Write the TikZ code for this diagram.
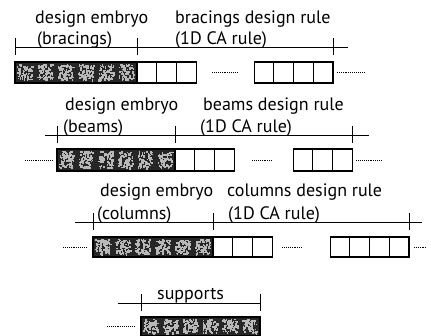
\documentclass[tikz,border=0pt]{standalone}
\usepackage{fontspec}
\setmainfont{PT Sans}
\usetikzlibrary{positioning}

\begin{document}
\begin{tikzpicture}[x=1pt, y=-1pt,
            cell/.style={draw=black, line width=1.1pt, rectangle, minimum width=19.7pt, minimum height=21pt, inner sep=0pt, outer sep=0pt},
            embryo/.style={draw=black, line width=1.1pt, rectangle, fill=black!85, minimum height=21pt, inner sep=0pt, outer sep=0pt},
            speck/.style={fill=black!28},
            dimline/.style={line width=0.4pt},
            dimtick/.style={line width=0.6pt},
            leader/.style={densely dotted, line width=0.9pt},
            lbl/.style={font=\fontsize{18}{22}\selectfont, inner sep=0pt, anchor=base west}
        ]
        \useasboundingbox (0,0) rectangle (431,336);
        \pgfmathsetseed{7}

        % Hoehen der Masslinien
        \coordinate (m1) at (0,47);
        \coordinate (m2) at (0,135);
        \coordinate (m3) at (0,222);
        \coordinate (m4) at (0,303);

        % Knoten: Reihe 1 (bracings)
        \node[embryo, minimum width=122pt] (e1) at (76,72.5) {};
        \node[cell, right=0pt of e1] (c11) {};
        \node[cell, right=0pt of c11] (c12) {};
        \node[cell, right=0pt of c12] (c13) {};
        \node[cell] (k11) at (264,72.5) {};
        \node[cell, right=0pt of k11] (k12) {};
        \node[cell, right=0pt of k12] (k13) {};
        \node[cell, right=0pt of k13] (k14) {};

        % Knoten: Reihe 2 (beams)
        \node[embryo, minimum width=118pt, minimum height=22pt] (e2) at (116,160) {};
        \node[cell, minimum height=22pt, right=0pt of e2] (c21) {};
        \node[cell, minimum height=22pt, right=0pt of c21] (c22) {};
        \node[cell, minimum height=22pt, right=0pt of c22] (c23) {};
        \node[cell, minimum height=22pt] (k21) at (303,160) {};
        \node[cell, minimum height=22pt, right=0pt of k21] (k22) {};
        \node[cell, minimum height=22pt, right=0pt of k22] (k23) {};

        % Knoten: Reihe 3 (columns)
        \node[embryo, minimum width=120pt, minimum height=20pt] (e3) at (153,247) {};
        \node[cell, minimum height=20pt, right=0pt of e3] (c31) {};
        \node[cell, minimum height=20pt, right=0pt of c31] (c32) {};
        \node[cell, minimum height=20pt, right=0pt of c32] (c33) {};
        \node[cell, minimum height=20pt] (k31) at (340,247) {};
        \node[cell, minimum height=20pt, right=0pt of k31] (k32) {};
        \node[cell, minimum height=20pt, right=0pt of k32] (k33) {};
        \node[cell, minimum height=20pt, right=0pt of k33] (k34) {};

        % Knoten: supports
        \node[embryo, minimum width=119pt, minimum height=19pt] (e4) at (200.5,326.5) {};

        % Muster in den Embryos
        \foreach \blk/\w/\h in {e1/122/21, e2/118/22, e3/120/20, e4/119/19} {
            \begin{scope}[shift={(\blk.north west)}]
                \foreach \c in {0,...,5}
                    \foreach \k in {1,...,70}
                        \fill[speck] ({\c*\w/6+2+rnd*(\w/6-5.5)},{2+rnd*(\h-5.5)}) rectangle ++({1+rnd*1.4},{1+rnd*1.6});
            \end{scope}
        }

        % Punktlinien
        \draw[leader] ([xshift=16pt]c13.east) -- ([xshift=-17pt]k11.west);
        \draw[leader] ([xshift=4pt]k14.east) -- ([xshift=31pt]k14.east);
        \draw[leader] ([xshift=-32pt]e2.west) -- ([xshift=-5pt]e2.west);
        \draw[leader] ([xshift=18pt]c23.east) -- ([xshift=-21pt]k21.west);
        \draw[leader] ([xshift=4pt]k23.east) -- ([xshift=30pt]k23.east);
        \draw[leader] ([xshift=-30pt]e3.west) -- ([xshift=-6pt]e3.west);
        \draw[leader] ([xshift=10pt]c33.east) -- ([xshift=-28pt]k31.west);
        \draw[leader] ([xshift=5pt]k34.east) -- ([xshift=17pt]k34.east);
        \draw[leader] ([xshift=-34pt]e4.west) -- ([xshift=-6pt]e4.west);

        % Masslinien
        \draw[dimline] (e1.west |- m1) -- ([xshift=15pt]k14.east |- m1);
        \draw[dimline] ([xshift=-12pt]e2.west |- m2) -- ([xshift=17pt]k23.east |- m2);
        \draw[dimline] ([xshift=-18pt]e3.west |- m3) -- ([xshift=13pt]k34.east |- m3);
        \draw[dimline] ([xshift=-23pt]e4.west |- m4) -- (e4.east |- m4);

        \foreach \p/\m in {e1.west/m1, e1.east/m1, k14.east/m1,
                           e2.west/m2, e2.east/m2, k23.east/m2,
                           e3.west/m3, e3.east/m3, k34.east/m3,
                           e4.west/m4, e4.east/m4}
            \draw[dimtick] (\p |- \m) ++(0,-8.5) -- ++(0,17);

        % Beschriftungen
        \node[lbl] (t11) at (35,24) {design embryo};
        \node[lbl] (t12) at (37,45) {(bracings)};
        \node[lbl] (t13) at (175,24) {bracings design rule};
        \node[lbl] (t14) at (175,45) {(1D CA rule)};

        \node[lbl] (t21) at (65,111) {design embryo};
        \node[lbl] (t22) at (63,133) {(beams)};
        \node[lbl] (t23) at (203,111) {beams design rule};
        \node[lbl] (t24) at (200,133) {(1D CA rule)};

        \node[lbl] (t31) at (100,197) {design embryo};
        \node[lbl] (t32) at (97,220) {(columns)};
        \node[lbl] (t33) at (227,197) {columns design rule};
        \node[lbl] (t34) at (228,220) {(1D CA rule)};

        \node[lbl] (t41) at (157,300) {supports};

    \end{tikzpicture}
\end{document}
